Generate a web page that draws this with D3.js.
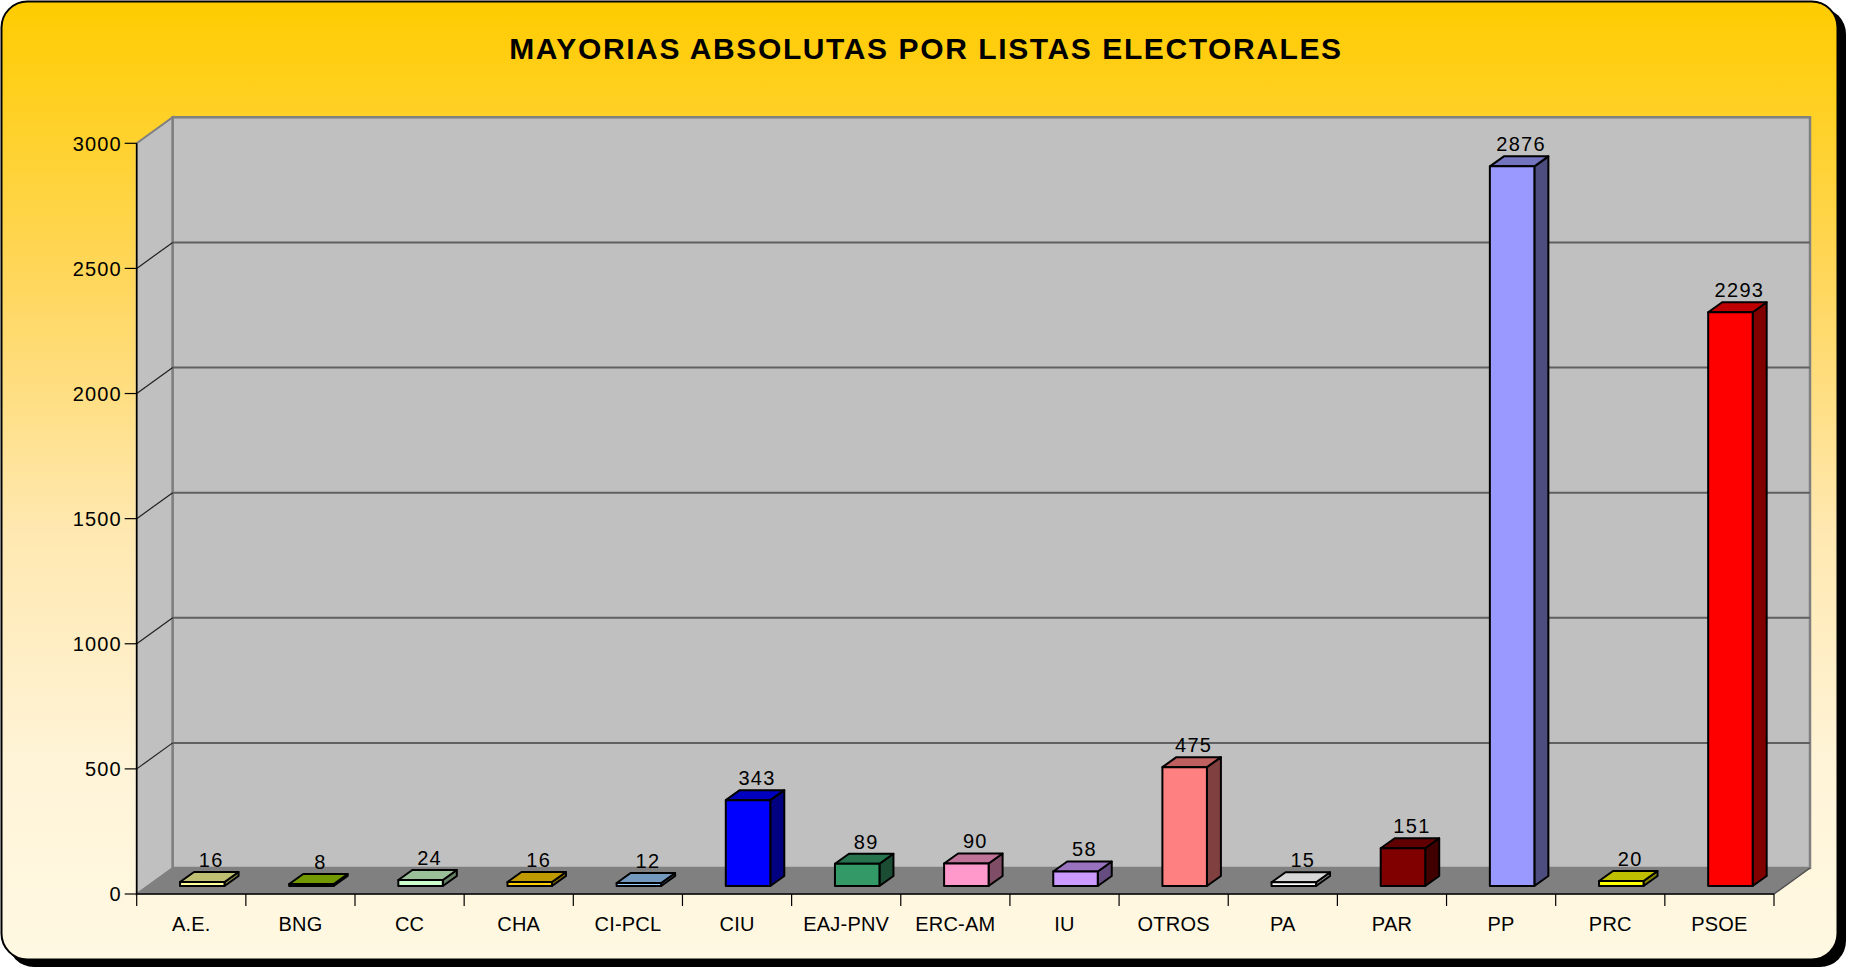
<!DOCTYPE html>
<html>
<head>
<meta charset="utf-8">
<script src="https://cdn.jsdelivr.net/npm/d3@7"></script>
<style>
  body { margin: 0; padding: 0; background: #ffffff; }
  svg text { font-family: Arial, "Liberation Sans", sans-serif; }
</style>
</head>
<body>
<div id="chart-div"></div>
<script>
'use strict'

// data
let categories = ['A.E.', 'BNG', 'CC', 'CHA', 'CI-PCL', 'CIU', 'EAJ-PNV', 'ERC-AM', 'IU', 'OTROS', 'PA', 'PAR', 'PP', 'PRC', 'PSOE']
let values = [16, 8, 24, 16, 12, 343, 89, 90, 58, 475, 15, 151, 2876, 20, 2293]
let bar_colors = ['#FFFF99', '#99CC00', '#CCFFCC', '#FFCC00', '#99CCFF', '#0000FF', '#339966', '#FF99CC', '#CC99FF', '#FF8080', '#FFFFFF', '#800000', '#9999FF', '#FFFF00', '#FF0000']
let y_ticks = [0, 500, 1000, 1500, 2000, 2500, 3000]
let chart_title = 'MAYORIAS ABSOLUTAS POR LISTAS ELECTORALES'

function wrapper(){

	let svg_width = 1849
	let svg_height = 970

	// front plane of the plot, depth of the floor and of each bar
	let plot = {left: 136.7, right: 1774, top: 143.3, bottom: 894}
	let depth = {dx: 36, dy: 26}
	let bar_depth = {dx: 14, dy: 10}
	let bar_off = {dx: (depth.dx - bar_depth.dx) / 2, dy: (depth.dy - bar_depth.dy) / 2}

	let svg = d3.select('#chart-div').append('svg')
		.attr('width', svg_width)
		.attr('height', svg_height)

	let defs = svg.append('defs')
	let grad = defs.append('linearGradient').attr('id', 'bg-grad')
		.attr('x1', 0).attr('y1', 0).attr('x2', 0).attr('y2', 1)
	grad.append('stop').attr('offset', '0%').attr('stop-color', '#FFCC00')
	grad.append('stop').attr('offset', '30%').attr('stop-color', '#FFD75F')
	grad.append('stop').attr('offset', '55%').attr('stop-color', '#FFE8B0')
	grad.append('stop').attr('offset', '80%').attr('stop-color', '#FFF4D8')
	grad.append('stop').attr('offset', '100%').attr('stop-color', '#FFF8E2')

	// frame with shadow
	svg.append('rect')
		.attr('x', 8).attr('y', 8)
		.attr('width', 1838).attr('height', 959)
		.attr('rx', 26).attr('ry', 26)
		.attr('fill', '#000')
	svg.append('rect')
		.attr('x', 1.5).attr('y', 1.5)
		.attr('width', 1836).attr('height', 958)
		.attr('rx', 26).attr('ry', 26)
		.attr('fill', 'url(#bg-grad)')
		.attr('stroke', '#000')
		.attr('stroke-width', 2)

	svg.append('text')
		.text(chart_title)
		.attr('x', 926)
		.attr('y', 59)
		.attr('text-anchor', 'middle')
		.style('font-size', '30px')
		.style('font-weight', 'bold')
		.style('letter-spacing', '1.6px')
		.attr('fill', '#000')

	let xScale = d3.scaleBand().domain(categories).range([plot.left, plot.right])
	let yScale = d3.scaleLinear().domain([0, 3000]).range([plot.bottom, plot.top])

	// walls
	let g = svg.append('g')
	let y0 = yScale(0), ymax = yScale(3000)

	// side wall
	g.append('polygon')
		.attr('points', [
			[plot.left, y0], [plot.left, ymax],
			[plot.left + depth.dx, ymax - depth.dy], [plot.left + depth.dx, y0 - depth.dy]
		].join(' '))
		.attr('fill', '#C0C0C0')
		.attr('stroke', '#808080')
		.attr('stroke-width', 2)

	// back wall
	g.append('rect')
		.attr('x', plot.left + depth.dx)
		.attr('y', ymax - depth.dy)
		.attr('width', plot.right - plot.left)
		.attr('height', y0 - ymax)
		.attr('fill', '#C0C0C0')
		.attr('stroke', '#808080')
		.attr('stroke-width', 2.5)

	// grid on the back wall and on the side wall
	let grid_vals = y_ticks.filter(function(t){ return t > 0 && t < 3000 })
	g.selectAll('.grid-back').data(grid_vals).enter()
		.append('line')
		.attr('x1', plot.left + depth.dx)
		.attr('x2', plot.right + depth.dx)
		.attr('y1', function(d){ return yScale(d) - depth.dy })
		.attr('y2', function(d){ return yScale(d) - depth.dy })
		.attr('stroke', '#606060')
		.attr('stroke-width', 2)
	g.selectAll('.grid-side').data(grid_vals).enter()
		.append('line')
		.attr('x1', plot.left)
		.attr('x2', plot.left + depth.dx)
		.attr('y1', function(d){ return yScale(d) })
		.attr('y2', function(d){ return yScale(d) - depth.dy })
		.attr('stroke', '#202020')
		.attr('stroke-width', 1.2)

	// floor
	g.append('polygon')
		.attr('points', [
			[plot.left, y0], [plot.left + depth.dx, y0 - depth.dy],
			[plot.right + depth.dx, y0 - depth.dy], [plot.right, y0]
		].join(' '))
		.attr('fill', '#808080')
		.attr('stroke', '#808080')
		.attr('stroke-width', 1)
	g.append('line')
		.attr('x1', plot.right).attr('y1', y0)
		.attr('x2', plot.right + depth.dx).attr('y2', y0 - depth.dy)
		.attr('stroke', '#505050')
		.attr('stroke-width', 1.5)

	// bars
	let bar_w = 44.5
	function shade(c, k){
		let rgb = d3.rgb(c)
		return d3.rgb(rgb.r * k, rgb.g * k, rgb.b * k).formatHex()
	}

	let bar_data = categories.map(function(c, i){
		let x0 = xScale(c) + xScale.bandwidth() / 2 + bar_off.dx - bar_w / 2
		let yb = yScale(0) - bar_off.dy
		let yt = yScale(values[i]) - bar_off.dy
		return {name: c, value: values[i], color: bar_colors[i], x0: x0, x1: x0 + bar_w, yb: yb, yt: yt}
	})

	let bars = svg.append('g').selectAll('.bar').data(bar_data).enter().append('g')

	// side face
	bars.append('polygon')
		.attr('points', function(d){
			return [[d.x1, d.yb], [d.x1, d.yt], [d.x1 + bar_depth.dx, d.yt - bar_depth.dy], [d.x1 + bar_depth.dx, d.yb - bar_depth.dy]].join(' ')
		})
		.attr('fill', function(d){ return shade(d.color, 0.5) })
		.attr('stroke', '#000')
		.attr('stroke-width', 2)
		.attr('stroke-linejoin', 'round')
	// top face
	bars.append('polygon')
		.attr('points', function(d){
			return [[d.x0, d.yt], [d.x0 + bar_depth.dx, d.yt - bar_depth.dy], [d.x1 + bar_depth.dx, d.yt - bar_depth.dy], [d.x1, d.yt]].join(' ')
		})
		.attr('fill', function(d){ return d.name == 'PA' ? '#D8D8D8' : shade(d.color, 0.75) })
		.attr('stroke', '#000')
		.attr('stroke-width', 2)
		.attr('stroke-linejoin', 'round')
	// front face
	bars.append('rect')
		.attr('x', function(d){ return d.x0 })
		.attr('y', function(d){ return d.yt })
		.attr('width', bar_w)
		.attr('height', function(d){ return d.yb - d.yt })
		.attr('fill', function(d){ return d.color })
		.attr('stroke', '#000')
		.attr('stroke-width', 2)
		.attr('stroke-linejoin', 'round')

	// value labels
	bars.append('text')
		.text(function(d){ return d.value })
		.attr('x', function(d){ return (d.x0 + d.x1) / 2 + 9 })
		.attr('y', function(d){ return d.yt - bar_depth.dy - 5 })
		.attr('text-anchor', 'middle')
		.style('font-size', '20px')
		.style('letter-spacing', '1.3px')
		.attr('fill', '#000')

	// axes
	let axis_g = svg.append('g')
	axis_g.append('line')
		.attr('x1', plot.left).attr('x2', plot.left)
		.attr('y1', ymax).attr('y2', y0)
		.attr('stroke', '#000').attr('stroke-width', 1.5)
	axis_g.append('line')
		.attr('x1', plot.left).attr('x2', plot.right)
		.attr('y1', y0).attr('y2', y0)
		.attr('stroke', '#000').attr('stroke-width', 1.5)

	axis_g.selectAll('.ytick').data(y_ticks).enter()
		.append('line')
		.attr('x1', plot.left - 12).attr('x2', plot.left)
		.attr('y1', function(d){ return yScale(d) })
		.attr('y2', function(d){ return yScale(d) })
		.attr('stroke', '#000').attr('stroke-width', 1.2)
	axis_g.selectAll('.ylabel').data(y_ticks).enter()
		.append('text')
		.text(function(d){ return d })
		.attr('x', plot.left - 15)
		.attr('y', function(d){ return yScale(d) })
		.attr('dy', '0.36em')
		.attr('text-anchor', 'end')
		.style('font-size', '20px')
		.style('letter-spacing', '1.1px')
		.attr('fill', '#000')

	let x_tick_pos = categories.map(function(c){ return xScale(c) })
	x_tick_pos.push(plot.right)
	axis_g.selectAll('.xtick').data(x_tick_pos).enter()
		.append('line')
		.attr('x1', function(d){ return d }).attr('x2', function(d){ return d })
		.attr('y1', y0).attr('y2', y0 + 12)
		.attr('stroke', '#000').attr('stroke-width', 1.2)
	axis_g.selectAll('.xlabel').data(categories).enter()
		.append('text')
		.text(function(d){ return d })
		.attr('x', function(d){ return xScale(d) + xScale.bandwidth() / 2 })
		.attr('y', 931)
		.attr('text-anchor', 'middle')
		.style('font-size', '20px')
		.style('letter-spacing', '0.2px')
		.attr('fill', '#000')

}//wrapper

wrapper()
</script>
</body>
</html>
